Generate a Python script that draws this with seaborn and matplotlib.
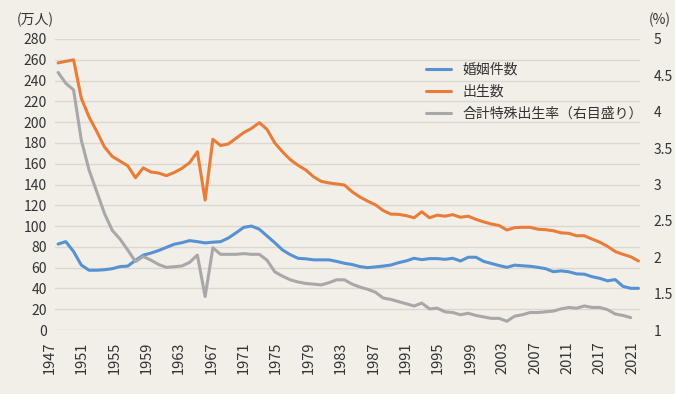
import numpy as np
import pandas as pd
import seaborn as sns
import matplotlib.pyplot as plt
import matplotlib.transforms as mtransforms

sns.set_theme(style="white")
plt.rcParams['font.family'] = ['Noto Sans CJK JP', 'DejaVu Sans']

# data
years = list(range(1947, 2023))

births = [257, 258.5, 260, 223, 205, 191, 176, 167, 162.5, 158,
          146.5, 156, 152, 151, 148.5, 151.5, 155.5, 161, 171.5, 125,
          183.5, 177.5, 179, 184.5, 190, 194, 199.5, 193, 180, 171.5,
          164, 158.5, 154, 147.5, 143, 141.5, 140.5, 139.5, 133, 128,
          124, 120.5, 115, 111.5, 111.3, 110, 108, 113.8, 108, 110.5,
          109.5, 111, 108.5, 109.5, 106.5, 104, 102, 100.5, 96.2, 98.5,
          98.8, 98.8, 97, 96.5, 95.5, 93.5, 93, 90.7, 90.7, 87.5,
          84.5, 80.5, 75.5, 72.8, 70.5, 66.4]

marriages = [82.7, 85, 75.5, 62.5, 57.5, 57.5, 58, 59, 61, 61.5,
             67, 72, 74, 76.5, 79.5, 82.5, 84, 86, 85, 83.8,
             84.5, 85, 88.5, 93.5, 98.8, 100, 97, 90.5, 84, 77,
             72.5, 69, 68.5, 67.5, 67.5, 67.5, 66, 64.2, 63, 61,
             60, 60.7, 61.5, 62.5, 64.8, 66.5, 69, 67.7, 68.7, 68.7,
             68, 69, 66.4, 70, 70, 66, 64, 62, 60.3, 62.4,
             61.8, 61.3, 60.3, 59, 56.1, 56.9, 56, 54, 53.7, 51.3,
             49.7, 47.3, 48.5, 42, 40.1, 40.1]

tfr = [4.54, 4.39, 4.30, 3.61, 3.20, 2.90, 2.60, 2.37, 2.25, 2.10,
       1.94, 2.01, 1.96, 1.90, 1.86, 1.87, 1.88, 1.93, 2.03, 1.46,
       2.13, 2.04, 2.04, 2.04, 2.05, 2.04, 2.04, 1.96, 1.80, 1.74,
       1.69, 1.66, 1.64, 1.63, 1.62, 1.65, 1.69, 1.69, 1.63, 1.59,
       1.56, 1.52, 1.44, 1.42, 1.39, 1.36, 1.33, 1.37, 1.29, 1.30,
       1.25, 1.24, 1.21, 1.23, 1.20, 1.18, 1.16, 1.16, 1.12, 1.19,
       1.21, 1.24, 1.24, 1.25, 1.26, 1.29, 1.31, 1.30, 1.33, 1.31,
       1.31, 1.28, 1.22, 1.20, 1.17]

x_labels = ["1947", "1951", "1955", "1959", "1963", "1967", "1971", "1975",
            "1979", "1983", "1987", "1991", "1995", "1999", "2003", "2007",
            "2011", "2017", "2021"]
left_ticks = list(range(0, 281, 20))
right_ticks = [1, 1.5, 2, 2.5, 3, 3.5, 4, 4.5, 5]
right_labels = ["1", "1.5", "2", "2.5", "3", "3.5", "4", "4.5", "5"]

series_names = ["婚姻件数", "出生数", "合計特殊出生率（右目盛り）"]
colors = ["#5592D2", "#E97D38", "#A8A8A8"]

bg = "#F2EEE8"
text_color = "#333333"

df = pd.DataFrame({"year": years, "marriages": marriages, "births": births})
df_tfr = pd.DataFrame({"year": years[:len(tfr)], "tfr": tfr})

fig = plt.figure(figsize=(6.75, 3.94), dpi=100, facecolor=bg)
ax = fig.add_axes([55 / 675, 1 - 330 / 394, 585 / 675, 291 / 394])
ax.set_facecolor(bg)
ax2 = ax.twinx()

sns.lineplot(data=df, x="year", y="marriages", ax=ax, color=colors[0], lw=2.2, legend=False)
sns.lineplot(data=df, x="year", y="births", ax=ax, color=colors[1], lw=2.2, legend=False)
sns.lineplot(data=df_tfr, x="year", y="tfr", ax=ax2, color=colors[2], lw=2.2, legend=False)

ax.set_xlim(1946.6, 2022.2)
ax.set_ylim(0, 280)
ax.set_yticks(left_ticks)
ax.set_xticks([])
ax.grid(axis="y", color="#DCD8D1", lw=1)
ax.set(xlabel="", ylabel="")
ax.tick_params(axis="y", length=0, pad=6, labelsize=10, labelcolor=text_color)

ax2.set_ylim(1, 5)
ax2.set_yticks(right_ticks)
ax2.set_yticklabels(right_labels)
ax2.set(ylabel="")
ax2.tick_params(axis="y", length=0, pad=10, labelsize=10, labelcolor=text_color)

for a in (ax, ax2):
    for s in a.spines.values():
        s.set_visible(False)

# evenly spaced year labels under the axis
trans = mtransforms.blended_transform_factory(ax.transData, ax.transAxes)
for pos, lbl in zip(np.linspace(1945.9, 2021.2, len(x_labels)), x_labels):
    ax.text(pos, -0.04, lbl, rotation=90, ha="center", va="top",
            fontsize=10.5, color=text_color, transform=trans)

fig.text(17 / 675, 1 - 20 / 394, "(万人)", ha="left", va="center", fontsize=10, color=text_color)
fig.text(649 / 675, 1 - 20 / 394, "(%)", ha="left", va="center", fontsize=10, color=text_color)

handles = [ax.get_lines()[0], ax.get_lines()[1], ax2.get_lines()[0]]
fig.legend(handles, series_names, loc="upper left",
           bbox_to_anchor=(426 / 675, 1 - 63 / 394), bbox_transform=fig.transFigure,
           frameon=False, fontsize=10, handlelength=1.8, handletextpad=0.85,
           labelspacing=0.58, borderpad=0, borderaxespad=0, labelcolor=text_color)

fig.savefig("out.png", dpi=100, facecolor=bg)
